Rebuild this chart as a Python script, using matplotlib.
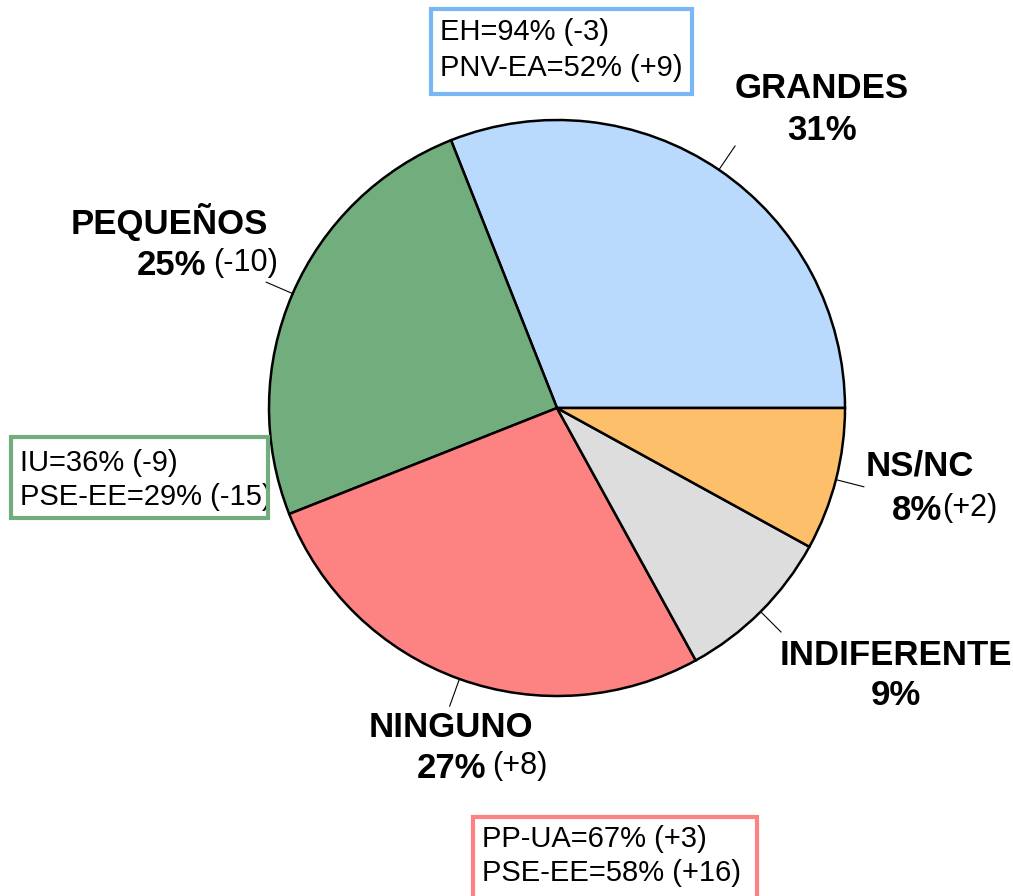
import numpy as np
import matplotlib.pyplot as plt
from matplotlib.patches import Rectangle

plt.rcParams['font.family'] = ['Liberation Sans', 'DejaVu Sans']

# data
labels = ['GRANDES', 'PEQUEÑOS', 'NINGUNO', 'INDIFERENTE', 'NS/NC']
values = [31, 25, 27, 9, 8]
changes = ['', '(-10)', '(+8)', '', '(+2)']
colors = ['#b9d9fd', '#72ad7e', '#fd8282', '#dddddd', '#fdbf6a']

box_blue = ['EH=94% (-3)', 'PNV-EA=52% (+9)']
box_green = ['IU=36% (-9)', 'PSE-EE=29% (-15)']
box_red = ['PP-UA=67% (+3)', 'PSE-EE=58% (+16)']

W, H = 1013, 896
fig = plt.figure(figsize=(W / 100, H / 100), dpi=100)
ax = fig.add_axes([0, 0, 1, 1])


def Y(py):
    return H - py


cx, cy, r = 557, Y(408), 288
ax.pie(values, colors=colors, startangle=0, counterclock=True,
       center=(cx, cy), radius=r,
       wedgeprops=dict(edgecolor='black', linewidth=1.8))

# leader lines at mid angles
cum = np.cumsum([0] + values)
for i in range(len(values)):
    a = np.deg2rad((cum[i] + cum[i + 1]) / 2 * 3.6)
    ax.plot([cx + r * np.cos(a), cx + 1.1 * r * np.cos(a)],
            [cy + r * np.sin(a), cy + 1.1 * r * np.sin(a)],
            color='black', lw=0.8)

bold = dict(fontsize=25, fontweight='bold', va='center')
reg = dict(fontsize=21, va='center')
reg2 = dict(fontsize=22, va='center')

# GRANDES
ax.text(822, Y(88), labels[0], ha='center', **bold)
ax.text(822, Y(130), f'{values[0]}%', ha='center', **bold)
# PEQUEÑOS
ax.text(268, Y(222), labels[1], ha='right', **bold)
ax.text(206, Y(265), f'{values[1]}%', ha='right', **bold)
ax.text(213, Y(263), changes[1], ha='left', **reg2)
# NINGUNO
ax.text(451, Y(727), labels[2], ha='center', **bold)
ax.text(486, Y(768), f'{values[2]}%', ha='right', **bold)
ax.text(492, Y(766), changes[2], ha='left', **reg2)
# INDIFERENTE
ax.text(896, Y(655), labels[3], ha='center', **bold)
ax.text(896, Y(695), f'{values[3]}%', ha='center', **bold)
# NS/NC
ax.text(866, Y(466), labels[4], ha='left', **bold)
ax.text(942, Y(510), f'{values[4]}%', ha='right', **bold)
ax.text(942, Y(508), changes[4], ha='left', **reg2)


def box(x0, y0, x1, y1, lines, ly, color):
    for t, yy in zip(lines, ly):
        ax.text(x0 + 9, Y(yy), t, ha='left', **reg)
    ax.add_patch(Rectangle((x0, Y(y1)), x1 - x0, y1 - y0, fill=False,
                           edgecolor=color, lw=3, zorder=5))


box(431, 9, 692, 94, box_blue, [32, 68], '#7ab8f5')
box(11, 437, 268, 518, box_green, [463, 497], '#72ad7e')
box(473, 817, 757, 900, box_red, [839, 873], '#fd8282')

ax.set_xlim(0, W)
ax.set_ylim(0, H)
ax.set_aspect('equal')
ax.axis('off')
fig.savefig('out.png', dpi=100)
